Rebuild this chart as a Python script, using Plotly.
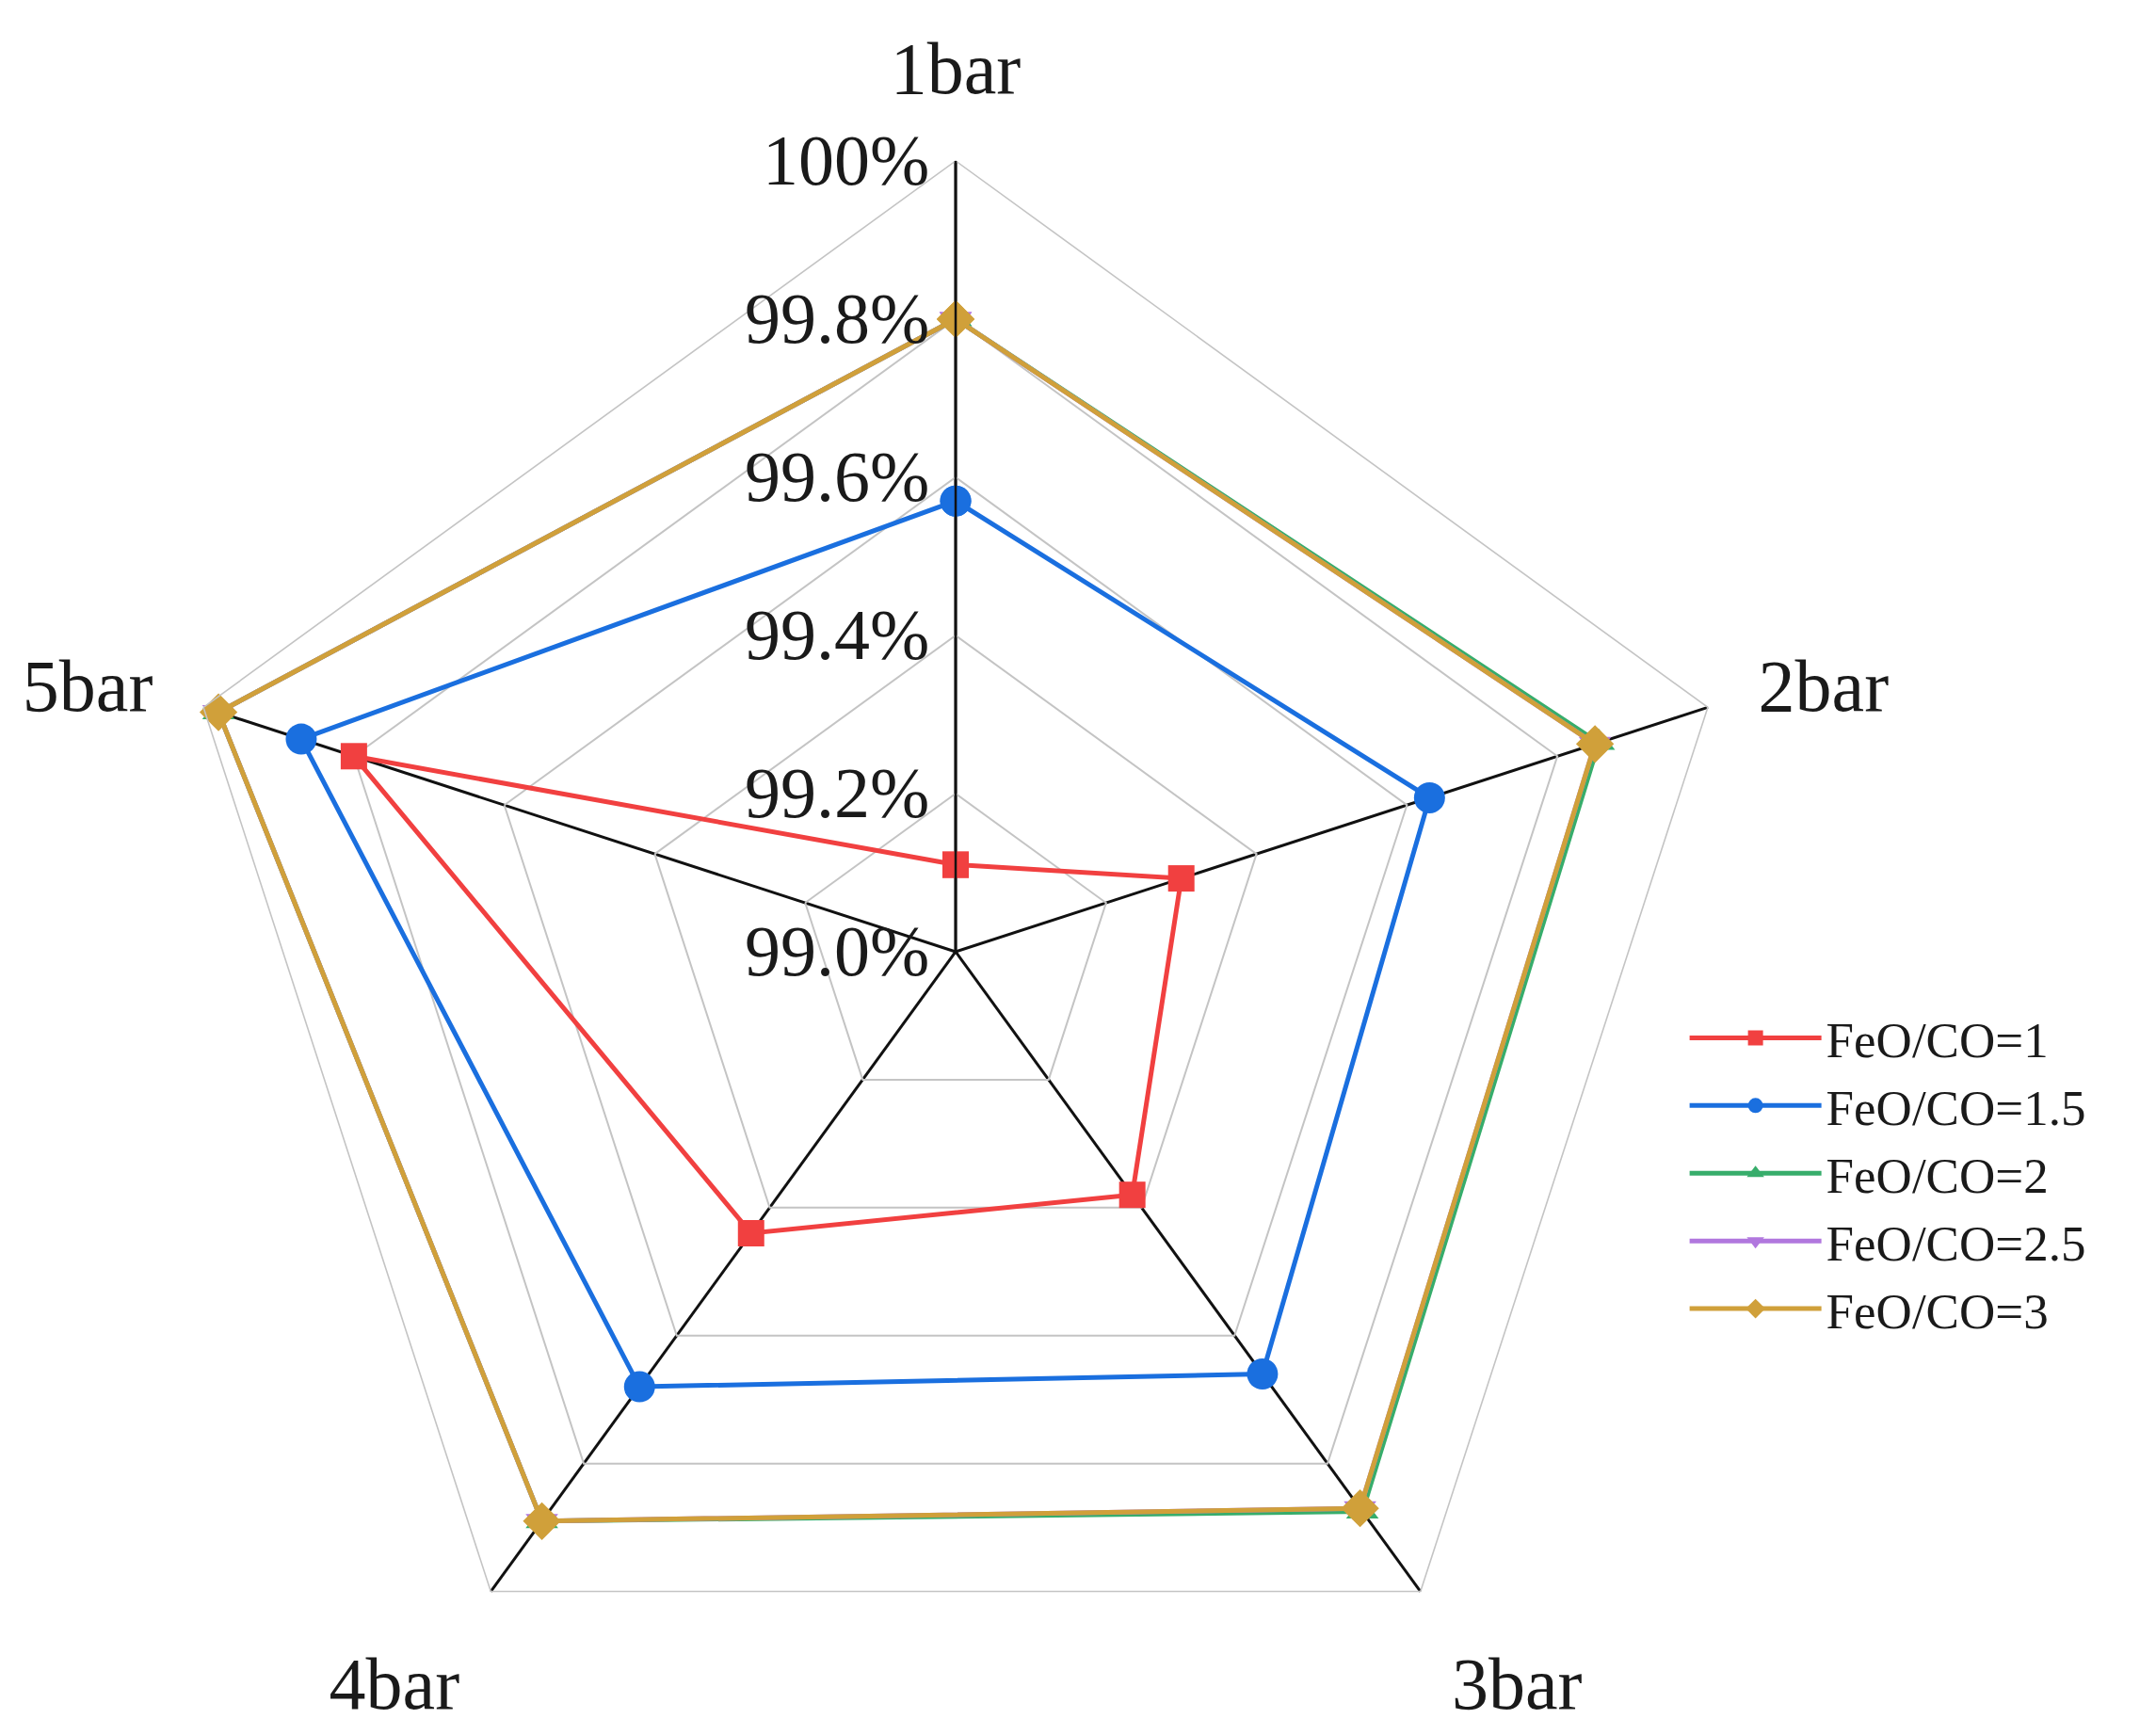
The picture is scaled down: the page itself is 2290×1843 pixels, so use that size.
import plotly.graph_objects as go

# pressure categories (angular axis)
categories = ["1bar", "2bar", "3bar", "4bar", "5bar"]

# conversion values, %
feo_co_1 = [99.11, 99.30, 99.38, 99.44, 99.80]
feo_co_1_5 = [99.57, 99.63, 99.66, 99.68, 99.87]
feo_co_2 = [99.80, 99.855, 99.875, 99.89, 99.98]
feo_co_2_5 = [99.80, 99.85, 99.87, 99.89, 99.98]
feo_co_3 = [99.80, 99.85, 99.87, 99.89, 99.98]

tick_vals = [99.0, 99.2, 99.4, 99.6, 99.8, 100.0]
tick_text = ["99.0%", "99.2%", "99.4%", "99.6%", "99.8%", "100%"]

series = [
    ("FeO/CO=1", feo_co_1, "#F14040", "square", 28),
    ("FeO/CO=1.5", feo_co_1_5, "#1A6FDF", "circle", 33),
    ("FeO/CO=2", feo_co_2, "#37AD6B", "triangle-up", 30),
    ("FeO/CO=2.5", feo_co_2_5, "#B177DE", "triangle-down", 30),
    ("FeO/CO=3", feo_co_3, "#D0A03A", "diamond", 31),
]

font_family = "Liberation Serif, Times New Roman, serif"

fig = go.Figure()
for name, vals, color, symbol, size in series:
    # close the loop back to the first category
    fig.add_trace(go.Scatterpolar(
        r=vals + vals[:1],
        theta=categories + categories[:1],
        name=name,
        mode="lines+markers",
        line=dict(color=color, width=5),
        marker=dict(color=color, symbol=symbol, size=size),
    ))

fig.update_layout(
    width=2290,
    height=1843,
    paper_bgcolor="white",
    margin=dict(l=0, r=0, t=0, b=0),
    font=dict(family=font_family, color="#1a1a1a"),
    polar=dict(
        domain=dict(x=[0.0729, 0.8066], y=[0.0, 0.9116]),
        bgcolor="white",
        gridshape="linear",
        radialaxis=dict(
            range=[99.0, 100.0],
            tickvals=tick_vals,
            ticktext=tick_text,
            angle=90,
            tickangle=90,
            side="counterclockwise",
            showline=True,
            linecolor="#111111",
            linewidth=2.5,
            gridcolor="#c4c4c4",
            gridwidth=1.6,
            ticks="",
            tickfont=dict(size=76, family=font_family, color="#1a1a1a"),
        ),
        angularaxis=dict(
            direction="clockwise",
            rotation=90,
            showline=True,
            linecolor="#c4c4c4",
            linewidth=1.6,
            gridcolor="#111111",
            gridwidth=2.5,
            ticks="outside",
            ticklen=40,
            tickcolor="rgba(0,0,0,0)",
            tickfont=dict(size=78, family=font_family, color="#1a1a1a"),
        ),
    ),
    legend=dict(
        x=0.778,
        y=0.328,
        xanchor="left",
        yanchor="middle",
        font=dict(size=53, family=font_family, color="#1a1a1a"),
        itemwidth=140,
        tracegroupgap=0,
        bgcolor="rgba(0,0,0,0)",
    ),
)

fig.write_html("out.html")
